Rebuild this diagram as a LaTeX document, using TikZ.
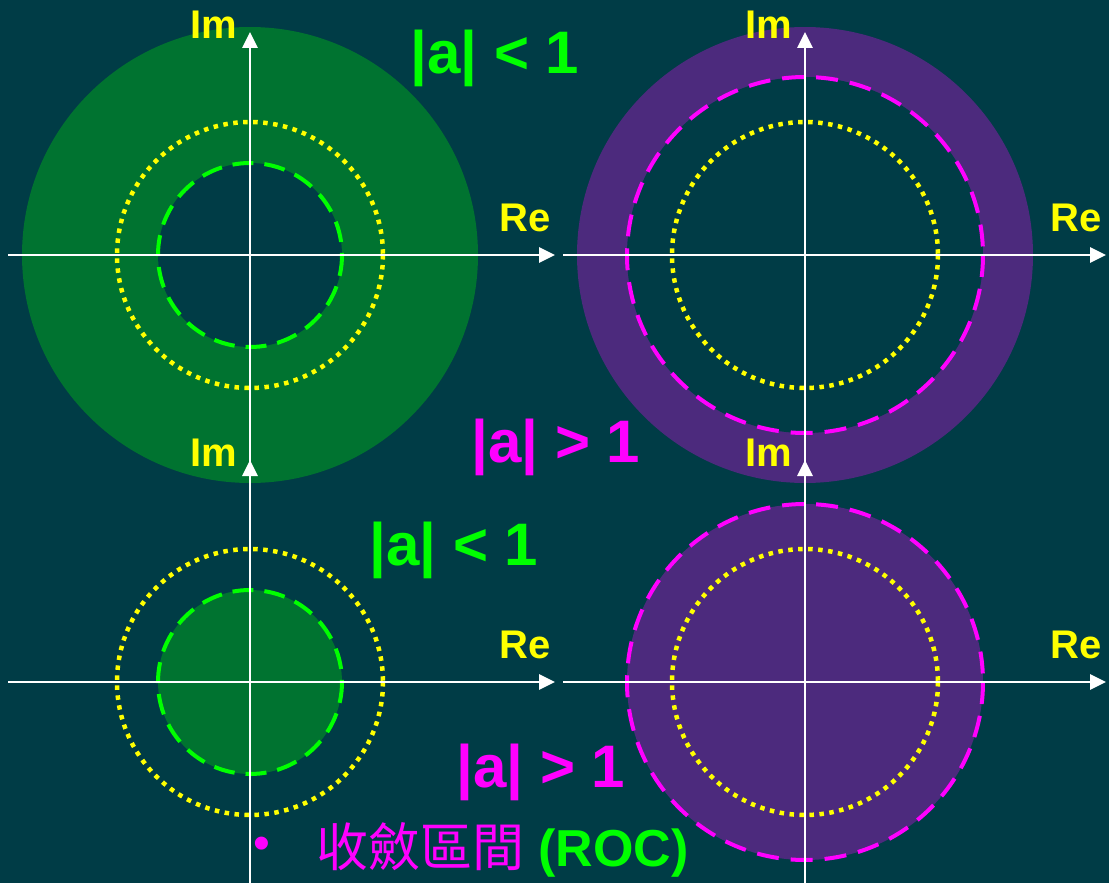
\documentclass[tikz,border=0pt]{standalone}
\usepackage{fontspec}
\setmainfont{Liberation Sans}
\newfontfamily\cjk{Noto Sans CJK TC}
\usepackage{tikz}
\usetikzlibrary{arrows.meta}
\definecolor{bg}{RGB}{0,60,70}
\definecolor{rocgreen}{RGB}{0,115,48}
\definecolor{rocpurple}{RGB}{76,42,125}
\definecolor{lgreen}{RGB}{0,255,0}
\definecolor{mag}{RGB}{255,0,255}
\definecolor{yel}{RGB}{255,255,0}

\begin{document}
\begin{tikzpicture}[x=1pt, y=-1pt,
  axis/.style={draw=white, line width=2.8pt, -{Triangle[length=16pt,width=15pt]}},
  unitc/.style={draw=yel, line width=4.5pt, dash pattern=on 4.5pt off 5.5pt},
  poleg/.style={draw=lgreen, line width=4pt, dash pattern=on 21pt off 11pt},
  polem/.style={draw=mag, line width=4pt, dash pattern=on 22pt off 12pt},
  axlbl/.style={text=yel, font=\bfseries\fontsize{40}{40}\selectfont, inner sep=0pt},
  cond/.style={font=\bfseries\fontsize{60}{60}\selectfont, inner sep=0pt}]
  \fill[bg] (0,0) rectangle (1109,883);
  \useasboundingbox (0,0) rectangle (1109,883);
  % centres of the four planes
  \coordinate (ca) at (250,255);
  \coordinate (cb) at (805,255);
  \coordinate (cc) at (250,682);
  \coordinate (cd) at (805,682);
  % top left: |a|<1, right sided
  \fill[rocgreen] (ca) circle (228);
  \fill[bg] (ca) circle (92);
  \draw[poleg] (ca) circle (92);
  \draw[unitc] (ca) circle (133);
  % top right: |a|>1, right sided
  \fill[rocpurple] (cb) circle (228);
  \fill[bg] (cb) circle (178);
  \draw[polem] (cb) circle (178);
  \draw[unitc] (cb) circle (133);
  % bottom left: |a|<1, left sided
  \fill[rocgreen] (cc) circle (92);
  \draw[poleg] (cc) circle (92);
  \draw[unitc] (cc) circle (133);
  % bottom right: |a|>1, left sided
  \fill[rocpurple] (cd) circle (178);
  \draw[polem] (cd) circle (178);
  \draw[unitc] (cd) circle (133);
  % axes
  \foreach \n/\cx/\cy/\re/\vb/\vt in {a/250/255/555/481/32, b/805/255/1106/481/32,
                                      c/250/682/555/883/460, d/805/682/1106/883/460} {
    \coordinate (w\n) at (\cx-242,\cy);
    \coordinate (e\n) at (\re,\cy);
    \coordinate (s\n) at (\cx,\vb);
    \coordinate (n\n) at (\cx,\vt);
    \draw[axis] (w\n) -- (e\n);
    \draw[axis] (s\n) -- (n\n);
    \node[axlbl] (im\n) at (\cx-36,\vt-7) {Im};
    \node[axlbl] (re\n) at (\re-30,\cy-37) {Re};
  }
  % conditions
  \node[cond, text=lgreen] (lta) at (495,58) {|a| < 1};
  \node[cond, text=mag] (gtb) at (556,447) {|a| > 1};
  \node[cond, text=lgreen] (ltc) at (454,550) {|a| < 1};
  \node[cond, text=mag] (gtd) at (541,772) {|a| > 1};
  % caption
  \node[text=mag, font=\fontsize{48}{48}\selectfont, inner sep=0pt] (dot) at (262,848) {•};
  \node[anchor=base west, inner sep=0pt, font=\fontsize{52}{52}\selectfont]
    (roc) at (316,866) {\textcolor{mag}{\cjk 收斂區間} \textcolor{lgreen}{\bfseries (ROC)}};
\end{tikzpicture}
\end{document}
